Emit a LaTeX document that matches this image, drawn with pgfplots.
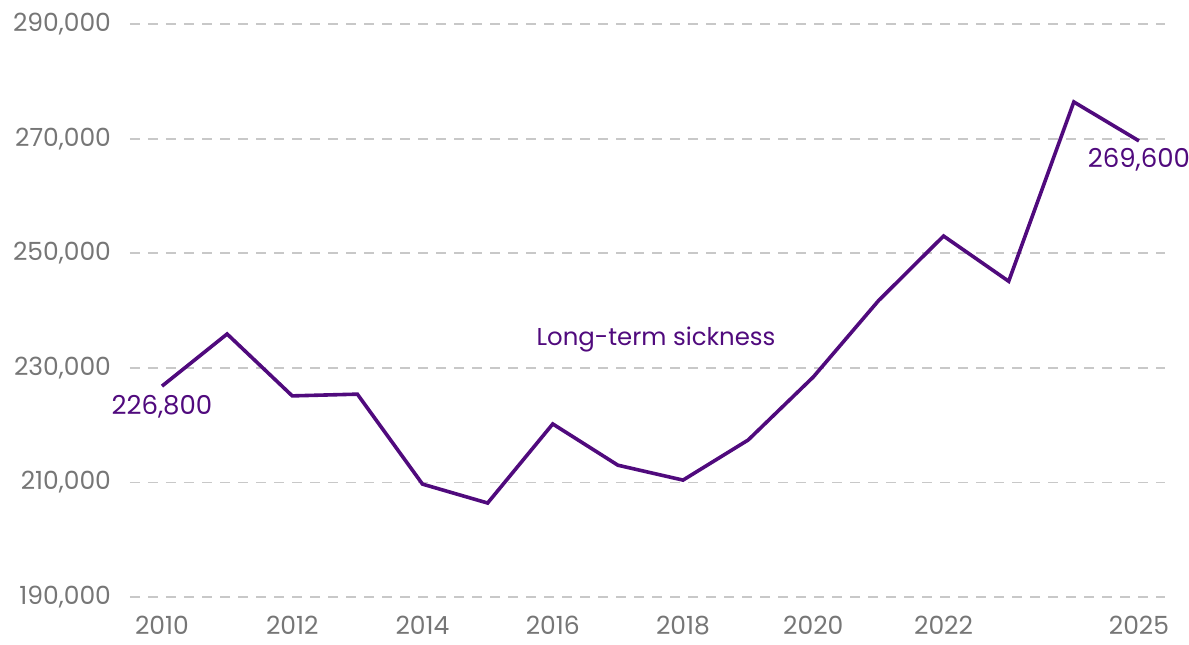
\documentclass[border=0pt]{standalone}
\usepackage{fontspec}
\setmainfont{Poppins}
\usepackage{pgfplots}
\pgfplotsset{compat=1.18}
\usetikzlibrary{calc}
\definecolor{lineP}{RGB}{80,10,125}
\definecolor{tickG}{RGB}{118,118,118}
\definecolor{gridG}{RGB}{200,200,200}
\begin{document}
\begin{tikzpicture}
\begin{axis}[
  scale only axis,
  width=517.5pt, height=286.5pt,
  xmin=2009.509, xmax=2025.40,
  ymin=190000, ymax=290000,
  axis line style={draw=none},
  xtick={2010,2012,2014,2016,2018,2020,2022,2025},
  ytick={190000,210000,230000,250000,270000,290000},
  major tick length=0pt,
  ymajorgrids,
  grid style={gridG, line width=0.9pt, dash pattern=on 5pt off 4pt},
  tick label style={font=\fontsize{12.5pt}{14pt}\selectfont, text=tickG},
  /pgf/number format/assume math mode=true,
  xticklabel style={/pgf/number format/1000 sep={}, anchor=north, yshift=-6pt},
  yticklabel style={/pgf/number format/1000 sep={,}, /pgf/number format/fixed, anchor=east, xshift=-6pt},
  scaled y ticks=false,
  clip=false,
]
\addplot[lineP, line width=1.8pt, line join=miter] coordinates {
(2010,226800) (2011,235900) (2012,225100) (2013,225400) (2014,209700)
(2015,206400) (2016,220200) (2017,213000) (2018,210400) (2019,217400)
(2020,228400) (2021,241700) (2022,253000) (2023,245100) (2024,276400)
(2025,269600)};
\node[text=lineP, font=\fontsize{13pt}{15pt}\selectfont] at (axis cs:2010,223200) {226,800};
\node[text=lineP, font=\fontsize{13pt}{15pt}\selectfont] at (axis cs:2025,266270) {269,600};
\node[text=lineP, font=\fontsize{12.2pt}{15pt}\selectfont] at (axis cs:2017.585,235000) {Long-term sickness};
\coordinate (sw) at (rel axis cs:0,0);
\coordinate (ne) at (rel axis cs:1,1);
\end{axis}
\pgfresetboundingbox
\path ($(sw)+(-65pt,-23.5pt)$) rectangle ($(ne)+(12pt,12pt)$);
\end{tikzpicture}
\end{document}
